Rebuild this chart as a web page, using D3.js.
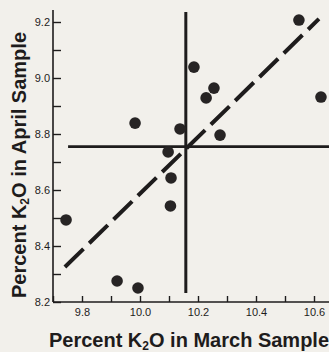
<!DOCTYPE html>
<html><head><meta charset="utf-8">
<script src="https://cdn.jsdelivr.net/npm/d3@7"></script>
<style>
html,body{margin:0;padding:0;background:#f2f0eb;}
svg{display:block;}
</style></head>
<body>
<script>
// Data (Percent K2O: March sample vs April sample)
const marchK2O = [9.983, 10.548, 10.186, 10.255, 10.228, 10.624, 10.138, 10.276, 10.097, 10.107, 10.105, 9.745, 9.921, 9.993];
const aprilK2O = [8.839, 9.207, 9.039, 8.964, 8.929, 8.932, 8.818, 8.796, 8.736, 8.643, 8.543, 8.493, 8.275, 8.250];
const xTickValues = [9.7, 9.8, 9.9, 10.0, 10.1, 10.2, 10.3, 10.4, 10.5, 10.6];
const xTickLabels = ["", "9.8", "", "10.0", "", "10.2", "", "10.4", "", "10.6"];
const yTickValues = [8.2, 8.3, 8.4, 8.5, 8.6, 8.7, 8.8, 8.9, 9.0, 9.1, 9.2];
const yTickLabels = ["8.2", "", "8.4", "", "8.6", "", "8.8", "", "9.0", "", "9.2"];
const meanApril = [8.755];
const meanMarch = [10.158];
const regressionX = [9.741, 10.617];
const regressionY = [8.325, 9.211];
const crossHExtentX = [9.752, 10.652];
const crossVExtentY = [8.232, 9.236];

const W = 329, H = 352;
const ink = "#1e1c1c";
const font = "'Liberation Sans', Arial, Helvetica, sans-serif";
const svg = d3.select("body").append("svg").attr("width", W).attr("height", H);

const x = d3.scaleLinear().domain([9.8, 10.6]).range([82, 314]);
const y = d3.scaleLinear().domain([8.2, 9.2]).range([302, 22]);

const xAxisStart = x.invert(53), xAxisEnd = x.invert(329), yAxisTop = y.invert(10);

// axes lines
svg.append("line").attr("x1", 53).attr("x2", 53).attr("y1", y(yAxisTop)).attr("y2", y(8.2))
  .attr("stroke", ink).attr("stroke-width", 1.6);
svg.append("line").attr("x1", x(xAxisStart)).attr("x2", x(xAxisEnd)).attr("y1", y(8.2)).attr("y2", y(8.2))
  .attr("stroke", ink).attr("stroke-width", 1.6);

const yAxis = d3.axisLeft(y).tickValues(yTickValues).tickSize(-8).tickPadding(3)
  .tickFormat((d, i) => yTickLabels[i]);
const gy = svg.append("g").attr("transform", "translate(53,0)").call(yAxis);
gy.select(".domain").remove();
gy.selectAll(".tick line").attr("stroke", ink).attr("stroke-width", 1.4);
gy.selectAll(".tick text").attr("fill", ink).style("font-family", font).style("font-size", "11px");

const xAxis = d3.axisBottom(x).tickValues(xTickValues).tickSize(-6).tickPadding(6)
  .tickFormat((d, i) => xTickLabels[i]);
const gx = svg.append("g").attr("transform", `translate(0,${y(8.2)})`).call(xAxis);
gx.select(".domain").remove();
gx.selectAll(".tick line").attr("stroke", ink).attr("stroke-width", 1.4);
gx.selectAll(".tick text").attr("fill", ink).style("font-family", font).style("font-size", "11px");

// cross lines
svg.append("line").attr("x1", x(crossHExtentX[0])).attr("x2", x(crossHExtentX[1]))
  .attr("y1", y(meanApril[0])).attr("y2", y(meanApril[0])).attr("stroke", ink).attr("stroke-width", 2.8);
svg.append("line").attr("x1", x(meanMarch[0])).attr("x2", x(meanMarch[0]))
  .attr("y1", y(crossVExtentY[1])).attr("y2", y(crossVExtentY[0])).attr("stroke", ink).attr("stroke-width", 3);

// regression dashed line
svg.append("line").attr("x1", x(regressionX[0])).attr("y1", y(regressionY[0]))
  .attr("x2", x(regressionX[1])).attr("y2", y(regressionY[1]))
  .attr("stroke", ink).attr("stroke-width", 4).attr("stroke-dasharray", "26,8");

// points
svg.append("g").selectAll("circle").data(marchK2O).join("circle")
  .attr("cx", d => x(d)).attr("cy", (d, i) => y(aprilK2O[i])).attr("r", 5.8)
  .attr("fill", "#272424");

// titles
const xt = svg.append("text").attr("x", 189).attr("y", 347).attr("text-anchor", "middle")
  .attr("fill", ink).style("font-family", font)
  .style("font-size", "20px").style("font-weight", "bold");
xt.append("tspan").text("Percent K");
xt.append("tspan").attr("font-size", "12px").attr("dy", 3).text("2");
xt.append("tspan").attr("dy", -3).text("O in March Sample");

const yt = svg.append("text").attr("transform", "translate(26,165) rotate(-90)").attr("text-anchor", "middle")
  .attr("fill", ink).style("font-family", font)
  .style("font-size", "20px").style("font-weight", "bold");
yt.append("tspan").text("Percent K");
yt.append("tspan").attr("font-size", "12px").attr("dy", 3).text("2");
yt.append("tspan").attr("dy", -3).text("O in April Sample");
</script>
</body></html>
